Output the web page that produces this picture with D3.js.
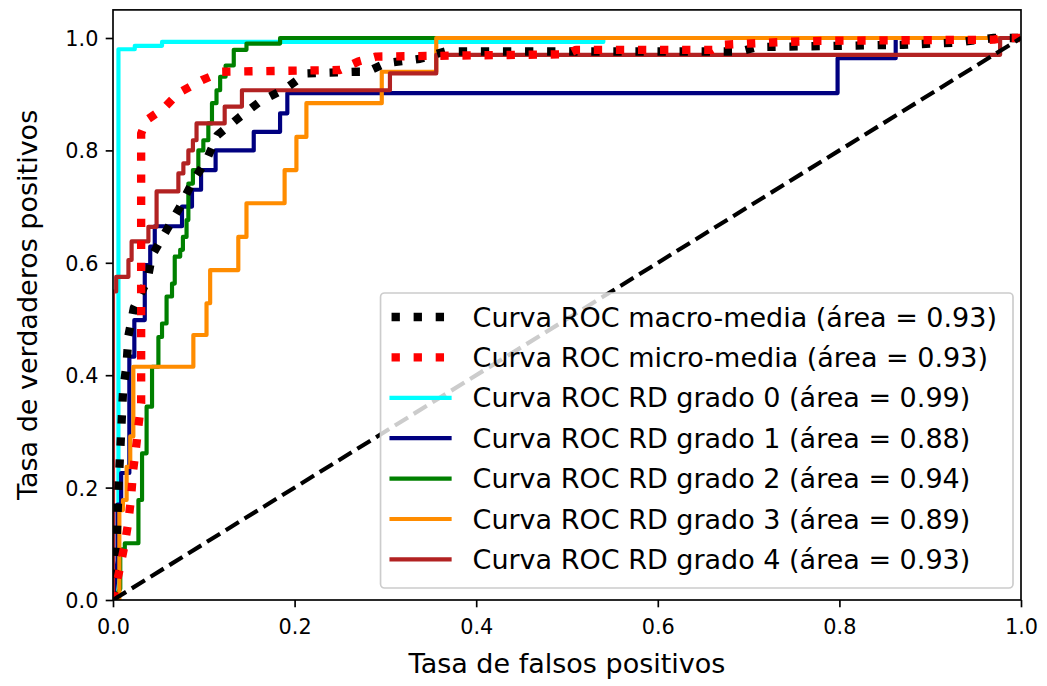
<!DOCTYPE html>
<html>
<head>
<meta charset="utf-8">
<script src="https://cdn.jsdelivr.net/npm/d3@7"></script>
<style>
  html, body { margin: 0; padding: 0; background: #fff; }
  svg { display: block; font-family: "DejaVu Sans", sans-serif; }
</style>
</head>
<body>
<svg id="chart" width="1047" height="686"></svg>
<script>
// ROC curves for the five retinopathy grades plus micro/macro averages.
const xTicks = [0, 0.2, 0.4, 0.6, 0.8, 1.0];
const yTicks = [0, 0.2, 0.4, 0.6, 0.8, 1.0];

const macroROC = [[0,0],[0.004,0.1],[0.006,0.2],[0.009,0.30],[0.011,0.37],[0.015,0.42],[0.017,0.47],
  [0.023,0.52],[0.038,0.57],[0.043,0.613],[0.059,0.658],[0.074,0.70],[0.087,0.742],[0.103,0.783],
  [0.115,0.827],[0.14,0.86],[0.162,0.887],[0.19,0.91],[0.213,0.937],[0.27,0.94],[0.28,0.94],
  [0.30,0.955],[0.338,0.963],[0.366,0.976],[0.69,0.976],[0.71,0.984],[0.80,0.986],[0.87,0.988],
  [0.93,0.992],[0.97,1],[1,1]];

const microROC = [[0,0],[0.004,0.03],[0.008,0.06],[0.013,0.10],[0.017,0.14],[0.020,0.184],[0.022,0.228],
  [0.026,0.28],[0.028,0.31],[0.031,0.35],[0.031,0.83],[0.037,0.854],[0.056,0.875],[0.072,0.902],
  [0.098,0.925],[0.12,0.94],[0.25,0.943],[0.27,0.958],[0.29,0.967],[0.50,0.971],[0.51,0.979],
  [0.66,0.979],[0.67,0.988],[0.74,0.993],[0.78,0.995],[0.97,0.997],[0.98,1],[1,1]];

const grade0ROC = [[0,0],[0.006,0],[0.006,0.980],[0.024,0.980],[0.024,0.986],[0.054,0.986],
  [0.054,0.993],[0.54,0.993],[0.54,1],[1,1]];

const grade1ROC = [[0,0],[0.005,0.07],[0.005,0.17],[0.009,0.17],[0.009,0.226],[0.018,0.226],
  [0.018,0.433],[0.0235,0.433],[0.0235,0.498],[0.035,0.498],[0.035,0.596],[0.041,0.596],
  [0.041,0.629],[0.046,0.629],[0.046,0.665],[0.076,0.665],[0.076,0.700],[0.087,0.700],
  [0.087,0.730],[0.097,0.730],[0.097,0.765],[0.113,0.765],[0.113,0.800],[0.155,0.800],
  [0.155,0.833],[0.184,0.833],[0.184,0.866],[0.192,0.866],[0.192,0.902],[0.798,0.902],
  [0.798,0.964],[0.862,0.964],[0.862,1],[1,1]];

const grade2ROC = [[0,0],[0.008,0.02],[0.008,0.09],[0.013,0.09],[0.013,0.101],[0.028,0.101],
  [0.028,0.178],[0.032,0.178],[0.032,0.261],[0.037,0.261],[0.037,0.344],[0.043,0.344],
  [0.043,0.415],[0.050,0.415],[0.050,0.468],[0.054,0.468],[0.054,0.492],[0.059,0.492],
  [0.059,0.540],[0.065,0.540],[0.065,0.563],[0.068,0.563],[0.068,0.611],[0.074,0.611],
  [0.074,0.623],[0.077,0.623],[0.077,0.646],[0.081,0.646],[0.081,0.676],[0.083,0.676],
  [0.083,0.741],[0.088,0.741],[0.088,0.765],[0.094,0.765],[0.094,0.80],[0.0995,0.80],
  [0.0995,0.818],[0.105,0.818],[0.105,0.848],[0.109,0.848],[0.109,0.884],[0.114,0.884],
  [0.114,0.907],[0.118,0.907],[0.118,0.931],[0.124,0.931],[0.124,0.951],[0.133,0.951],
  [0.133,0.979],[0.147,0.979],[0.147,0.990],[0.184,0.990],[0.184,1],[1,1]];

const grade3ROC = [[0,0],[0.007,0],[0.007,0.16],[0.011,0.16],[0.011,0.178],[0.015,0.178],
  [0.015,0.237],[0.019,0.237],[0.019,0.291],[0.0224,0.291],[0.0224,0.415],[0.0885,0.415],
  [0.0885,0.4715],[0.103,0.4715],[0.103,0.528],[0.107,0.528],[0.107,0.587],[0.138,0.587],
  [0.138,0.646],[0.147,0.646],[0.147,0.706],[0.189,0.706],[0.189,0.765],[0.202,0.765],
  [0.202,0.824],[0.213,0.824],[0.213,0.884],[0.296,0.884],[0.296,0.940],[0.356,0.940],
  [0.356,1],[1,1]];

const grade4ROC = [[0,0],[0,0.549],[0.0035,0.549],[0.0035,0.575],[0.017,0.575],[0.017,0.605],
  [0.0205,0.605],[0.0205,0.638],[0.039,0.638],[0.039,0.664],[0.048,0.664],[0.048,0.727],
  [0.072,0.727],[0.072,0.759],[0.0775,0.759],[0.0775,0.777],[0.083,0.777],[0.083,0.80],
  [0.088,0.80],[0.088,0.818],[0.092,0.818],[0.092,0.848],[0.123,0.848],[0.123,0.878],
  [0.142,0.878],[0.142,0.907],[0.305,0.907],[0.305,0.937],[0.356,0.937],[0.356,0.970],
  [0.977,0.970],[0.977,1],[1,1]];

const chanceLine = [[0,0],[1,1]];

const seriesNames = [
  "Curva ROC macro-media (área = 0.93)",
  "Curva ROC micro-media (área = 0.93)",
  "Curva ROC RD grado 0 (área = 0.99)",
  "Curva ROC RD grado 1 (área = 0.88)",
  "Curva ROC RD grado 2 (área = 0.94)",
  "Curva ROC RD grado 3 (área = 0.89)",
  "Curva ROC RD grado 4 (área = 0.93)"
];
const seriesColors = ["#000000", "#ff0000", "#00ffff", "#000080", "#008000", "#ff8c00", "#b22222"];
const seriesData = [macroROC, microROC, grade0ROC, grade1ROC, grade2ROC, grade3ROC, grade4ROC];

const xLabel = "Tasa de falsos positivos";
const yLabel = "Tasa de verdaderos positivos";

// ---- layout ----
const svg = d3.select("#chart");
const x = d3.scaleLinear().domain([0, 1]).range([113, 1021]);
const y = d3.scaleLinear().domain([0, 1.05]).range([600, 600 - 1.05 * 562]);

const tickFont = 20.8, labelFont = 27, legendFont = 27;
const thin = 4.17, thick = 8.33, spineW = 1.67, tickLen = 7.3;
const dotDash = `${thick * 1},${thick * 1.65}`;
const dashDash = `${thin * 3.7},${thin * 1.6}`;

svg.append("defs").append("clipPath").attr("id", "plotClip")
  .append("rect")
  .attr("x", x(0)).attr("y", y(1.05))
  .attr("width", x(1) - x(0)).attr("height", y(0) - y(1.05));

const line = d3.line().x(d => x(d[0])).y(d => y(d[1]));
const plot = svg.append("g").attr("clip-path", "url(#plotClip)");

// Per-grade curves (solid), then the two averages (dotted), then the chance diagonal.
const drawOrder = [2, 3, 4, 5, 6, 0, 1];
drawOrder.forEach(i => {
  const dotted = i < 2;
  plot.append("path")
    .datum(seriesData[i])
    .attr("d", line)
    .attr("fill", "none")
    .attr("stroke", seriesColors[i])
    .attr("stroke-width", dotted ? thick : thin)
    .attr("stroke-linejoin", "round")
    .attr("stroke-linecap", dotted ? "butt" : "square")
    .attr("stroke-dasharray", dotted ? dotDash : null);
});

plot.append("path")
  .datum(chanceLine)
  .attr("d", line)
  .attr("fill", "none")
  .attr("stroke", "#000")
  .attr("stroke-width", thin)
  .attr("stroke-dasharray", dashDash);

// ---- axes ----
const fmt = d3.format(".1f");
const xAxis = svg.append("g").attr("transform", `translate(0,${y(0)})`)
  .call(d3.axisBottom(x).tickValues(xTicks).tickFormat(fmt).tickSize(tickLen).tickSizeOuter(0).tickPadding(tickLen));
const yAxis = svg.append("g").attr("transform", `translate(${x(0)},0)`)
  .call(d3.axisLeft(y).tickValues(yTicks).tickFormat(fmt).tickSize(tickLen).tickSizeOuter(0).tickPadding(tickLen));

[xAxis, yAxis].forEach(g => {
  g.select(".domain").remove();
  g.selectAll(".tick line").attr("stroke", "#000").attr("stroke-width", spineW);
  g.selectAll(".tick text")
    .attr("fill", "#000")
    .style("font-size", tickFont + "px")
    .style("font-family", "DejaVu Sans");
});
xAxis.selectAll(".tick text").attr("dy", "0.93em");
yAxis.selectAll(".tick text").attr("dy", "0.36em");

// Frame
svg.append("rect")
  .attr("x", x(0)).attr("y", y(1.05))
  .attr("width", x(1) - x(0)).attr("height", y(0) - y(1.05))
  .attr("fill", "none").attr("stroke", "#000").attr("stroke-width", spineW);

// Axis titles
svg.append("text")
  .attr("x", (x(0) + x(1)) / 2).attr("y", 673)
  .attr("text-anchor", "middle")
  .style("font-size", labelFont + "px")
  .text(xLabel);

svg.append("text")
  .attr("transform", `translate(37,${(y(0) + y(1.05)) / 2}) rotate(-90)`)
  .attr("text-anchor", "middle")
  .style("font-size", labelFont + "px")
  .text(yLabel);

// ---- legend ----
const legRight = x(1) - 8, legBottom = y(0) - 12;
const padL = 11, padR = 16, handleLen = 58, handlePad = 23;
const rowStep = 40.4;
const legend = svg.append("g");
const box = legend.append("rect")
  .attr("fill", "#fff").attr("fill-opacity", 0.8)
  .attr("stroke", "#cccccc").attr("stroke-width", spineW)
  .attr("rx", 4).attr("ry", 4);

const texts = [];
seriesNames.forEach((name, i) => {
  const t = legend.append("text")
    .style("font-size", legendFont + "px")
    .attr("dominant-baseline", "central")
    .text(name);
  texts.push(t);
});
const maxLen = d3.max(texts, t => t.node().getComputedTextLength());
const legW = padL + handleLen + handlePad + maxLen + padR;
const legH = 295;
const legLeft = legRight - legW, legTop = legBottom - legH;
box.attr("x", legLeft).attr("y", legTop).attr("width", legW).attr("height", legH);

seriesNames.forEach((name, i) => {
  const cy = legTop + 24 + i * rowStep;
  const dotted = i < 2;
  const hx0 = legLeft + padL;
  legend.append("line")
    .attr("x1", hx0).attr("x2", hx0 + handleLen)
    .attr("y1", cy).attr("y2", cy)
    .attr("stroke", seriesColors[i])
    .attr("stroke-width", dotted ? thick : thin)
    .attr("stroke-dasharray", dotted ? dotDash : null)
    .attr("stroke-linecap", dotted ? "butt" : "square");
  texts[i].attr("x", hx0 + handleLen + handlePad).attr("y", cy);
});
</script>
</body>
</html>
